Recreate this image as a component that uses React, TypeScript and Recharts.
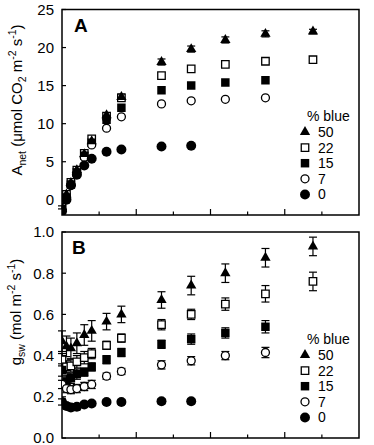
import { ScatterChart, Scatter, XAxis, YAxis, ErrorBar, ReferenceArea, Symbols } from 'recharts';

const FONT = '"Liberation Sans", Arial, sans-serif';

// light levels (PPFD) shared by both panels
const PPFD = [0, 30, 60, 100, 150, 200, 300, 400, 670, 870, 1100, 1370, 1690];
const X_TICKS = [250, 500, 750, 1000, 1250, 1500, 1750];
const X_MAJOR = [500, 1000, 1500];

const A_TICKS = [0, 5, 10, 15, 20, 25];
const B_TICKS = [0, 0.2, 0.4, 0.6, 0.8, 1.0];

// Panel A: net assimilation
const ANET_50 = [-1.0, 0.7, 2.2, 3.9, 6.0, 7.7, 11.1, 13.5, 18.1, 19.8, 21.0, 21.8, 22.1];
const ANET_50_SE = [0.2, 0.2, 0.2, 0.2, 0.2, 0.3, 0.3, 0.4, 0.4, 0.4, 0.4, 0.4, 0.3];
const ANET_22 = [-1.0, 0.7, 2.3, 3.9, 6.1, 8.0, 11.0, 13.4, 16.3, 17.2, 17.8, 18.2, 18.4];
const ANET_15 = [-1.2, 0.3, 2.0, 3.6, 5.8, 7.5, 10.5, 12.1, 14.4, 15.0, 15.4, 15.7];
const ANET_7 = [-1.3, 0.2, 1.9, 3.4, 5.6, 7.2, 9.4, 10.9, 12.6, 13.0, 13.2, 13.4];
const ANET_0 = [-1.5, 0.0, 1.9, 3.3, 4.5, 5.4, 6.3, 6.6, 7.0, 7.1];

// Panel B: stomatal conductance
const GSW_50 = [0.47, 0.445, 0.435, 0.46, 0.5, 0.52, 0.565, 0.6, 0.67, 0.74, 0.8, 0.875, 0.93];
const GSW_50_SE = [0.05, 0.05, 0.05, 0.05, 0.05, 0.05, 0.04, 0.04, 0.04, 0.045, 0.045, 0.045, 0.045];
const GSW_22 = [0.38, 0.345, 0.35, 0.37, 0.39, 0.41, 0.45, 0.485, 0.55, 0.6, 0.65, 0.7, 0.76];
const GSW_22_SE = [0.03, 0.03, 0.03, 0.03, 0.03, 0.025, 0.02, 0.02, 0.025, 0.025, 0.03, 0.04, 0.045];
const GSW_15 = [0.33, 0.275, 0.29, 0.31, 0.32, 0.345, 0.38, 0.415, 0.455, 0.48, 0.51, 0.54];
const GSW_15_SE = [0.03, 0.03, 0.025, 0.025, 0.02, 0.02, 0.02, 0.02, 0.02, 0.025, 0.025, 0.03];
const GSW_7 = [0.26, 0.24, 0.235, 0.24, 0.25, 0.26, 0.3, 0.323, 0.355, 0.375, 0.4, 0.415];
const GSW_7_SE = [0.02, 0.02, 0.02, 0.02, 0.02, 0.02, 0.015, 0.015, 0.02, 0.02, 0.02, 0.025];
const GSW_0 = [0.175, 0.155, 0.148, 0.152, 0.163, 0.167, 0.175, 0.175, 0.178, 0.178];
const GSW_0_SE = [0.015, 0.015, 0.015, 0.015, 0.01, 0.01, 0.01, 0.01, 0.012, 0.012];

// marker styles per % blue
const STYLES: Record<string, { type: any; filled: boolean; size: number }> = {
  '50': { type: 'triangle', filled: true, size: 46 },
  '22': { type: 'square', filled: false, size: 56 },
  '15': { type: 'square', filled: true, size: 72 },
  '7': { type: 'circle', filled: false, size: 50 },
  '0': { type: 'circle', filled: true, size: 78 },
};
const LEGEND_ORDER = ['50', '22', '15', '7', '0'];
const DRAW_ORDER = ['22', '15', '7', '50', '0'];

const toPoints = (ys: number[], se?: number[]) =>
  ys.map((y, i) => ({ x: PPFD[i], y, err: se ? se[i] : undefined }));

const SERIES_A: Record<string, { data: any[]; hasErr: boolean }> = {
  '50': { data: toPoints(ANET_50, ANET_50_SE), hasErr: true },
  '22': { data: toPoints(ANET_22), hasErr: false },
  '15': { data: toPoints(ANET_15), hasErr: false },
  '7': { data: toPoints(ANET_7), hasErr: false },
  '0': { data: toPoints(ANET_0), hasErr: false },
};

const SERIES_B: Record<string, { data: any[]; hasErr: boolean }> = {
  '50': { data: toPoints(GSW_50, GSW_50_SE), hasErr: true },
  '22': { data: toPoints(GSW_22, GSW_22_SE), hasErr: true },
  '15': { data: toPoints(GSW_15, GSW_15_SE), hasErr: true },
  '7': { data: toPoints(GSW_7, GSW_7_SE), hasErr: true },
  '0': { data: toPoints(GSW_0, GSW_0_SE), hasErr: true },
};

const marker = (key: string) => (p: any) => {
  const s = STYLES[key];
  return (
    <Symbols
      cx={p.cx}
      cy={p.cy}
      type={s.type}
      size={s.size}
      fill={s.filled ? '#000' : '#fff'}
      stroke="#000"
      strokeWidth={s.filled ? 0 : 1.3}
    />
  );
};

const XTick = (props: any) => {
  const { x, y, payload } = props;
  const len = X_MAJOR.includes(payload.value) ? 6 : 3.5;
  return <line x1={x} x2={x} y1={y} y2={y - len} stroke="#000" strokeWidth={1.2} />;
};

const makeYTick = (fmt: (v: number) => string) => (props: any) => {
  const { x, y, payload } = props;
  const axisX = x + 8;
  return (
    <g>
      <line x1={axisX} x2={axisX + 4} y1={y} y2={y} stroke="#000" strokeWidth={1.2} />
      <text x={x} y={y} dy="0.36em" textAnchor="end" fontSize={15} fontFamily={FONT} fill="#000">
        {fmt(payload.value)}
      </text>
    </g>
  );
};

interface PanelProps {
  series: Record<string, { data: any[]; hasErr: boolean }>;
  yDomain: [number, number];
  yTicks: number[];
  fmt: (v: number) => string;
  height: number;
  marginTop: number;
  xAxisHeight: number;
}

function Panel({ series, yDomain, yTicks, fmt, height, marginTop, xAxisHeight }: PanelProps) {
  return (
    <ScatterChart width={374} height={height} margin={{ top: marginTop, right: 15, bottom: 0, left: 0 }}>
      <XAxis
        type="number"
        dataKey="x"
        domain={[0, 2000]}
        ticks={X_TICKS}
        interval={0}
        height={xAxisHeight}
        tickSize={0}
        tickMargin={0}
        tick={XTick}
        axisLine={false}
        allowDataOverflow
      />
      <YAxis
        type="number"
        dataKey="y"
        domain={yDomain}
        ticks={yTicks}
        interval={0}
        width={62}
        tickSize={0}
        tickMargin={8}
        tick={makeYTick(fmt)}
        axisLine={false}
        allowDataOverflow
      />
      <ReferenceArea
        x1={0}
        x2={2000}
        y1={yDomain[0]}
        y2={yDomain[1]}
        fill="none"
        fillOpacity={0}
        stroke="#000"
        strokeWidth={1.5}
        ifOverflow="visible"
      />
      {DRAW_ORDER.map((k) => (
        <Scatter key={k} data={series[k].data} shape={marker(k)} isAnimationActive={false}>
          {series[k].hasErr && (
            <ErrorBar dataKey="err" direction="y" width={4} stroke="#000" strokeWidth={1.2} />
          )}
        </Scatter>
      ))}
    </ScatterChart>
  );
}

function Legend({ top }: { top: number }) {
  return (
    <g fontFamily={FONT} fontSize={14} fill="#000">
      <text x={307} y={top + 5}>% blue</text>
      {LEGEND_ORDER.map((k, i) => {
        const s = STYLES[k];
        const cy = top + 16 + i * 15.6;
        return (
          <g key={k}>
            <Symbols
              cx={305}
              cy={cy}
              type={s.type}
              size={s.size}
              fill={s.filled ? '#000' : '#fff'}
              stroke="#000"
              strokeWidth={s.filled ? 0 : 1.3}
            />
            <text x={318} y={cy + 5}>{k}</text>
          </g>
        );
      })}
    </g>
  );
}

const SUB = { fontSize: 10.5 };

export default function App() {
  return (
    <div style={{ position: 'absolute', left: 0, top: 0, width: 374, height: 445, background: '#fff' }}>
      <div style={{ position: 'absolute', left: 0, top: 0 }}>
        <Panel
          series={SERIES_A}
          yDomain={[-2, 25]}
          yTicks={A_TICKS}
          fmt={(v) => String(v)}
          height={225}
          marginTop={9.5}
          xAxisHeight={10}
        />
      </div>
      <div style={{ position: 'absolute', left: 0, top: 210 }}>
        <Panel
          series={SERIES_B}
          yDomain={[0, 1]}
          yTicks={B_TICKS}
          fmt={(v) => v.toFixed(1)}
          height={235}
          marginTop={22}
          xAxisHeight={7}
        />
      </div>
      <svg
        width={374}
        height={445}
        style={{ position: 'absolute', left: 0, top: 0, pointerEvents: 'none' }}
      >
        <text x={74} y={31.5} fontFamily={FONT} fontSize={19} fontWeight="bold">A</text>
        <text x={72} y={254} fontFamily={FONT} fontSize={19} fontWeight="bold">B</text>

        <text
          x={21.5}
          y={100}
          transform="rotate(-90 21.5 100)"
          textAnchor="middle"
          fontFamily={FONT}
          fontSize={15}
        >
          A<tspan {...SUB} dy={4}>net</tspan>
          <tspan dy={-4}> (μmol CO</tspan>
          <tspan {...SUB} dy={4}>2</tspan>
          <tspan dy={-4}> m</tspan>
          <tspan {...SUB} dy={-6}>-2</tspan>
          <tspan dy={6}> s</tspan>
          <tspan {...SUB} dy={-6}>-1</tspan>
          <tspan dy={6}>)</tspan>
        </text>

        <text
          x={21}
          y={312}
          transform="rotate(-90 21 312)"
          textAnchor="middle"
          fontFamily={FONT}
          fontSize={15}
        >
          g<tspan {...SUB} dy={4}>sw</tspan>
          <tspan dy={-4}> (mol m</tspan>
          <tspan {...SUB} dy={-6}>-2</tspan>
          <tspan dy={6}> s</tspan>
          <tspan {...SUB} dy={-6}>-1</tspan>
          <tspan dy={6}>)</tspan>
        </text>

        <Legend top={116} />
        <Legend top={339} />
      </svg>
    </div>
  );
}
